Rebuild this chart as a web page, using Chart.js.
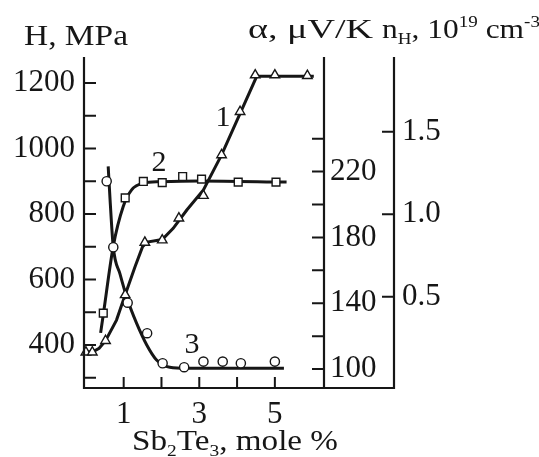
<!DOCTYPE html>
<html><head><meta charset="utf-8">
<script src="https://cdn.jsdelivr.net/npm/chart.js@4/dist/chart.umd.min.js"></script>
<style>html,body{margin:0;padding:0;background:#fff;overflow:hidden}canvas{display:block}</style>
</head><body>
<canvas id="c" width="539" height="457"></canvas>
<script>
// ---- data ----
// x: Sb2Te3, mole %
const xTicks = [1, 2, 3, 4, 5];
const xTickLabels = ['1', '', '3', '', '5'];

// Curve 1: microhardness H, MPa (triangles)
const hPointX = [0, 0.17, 0.52, 1.04, 1.56, 2.02, 2.46, 3.11, 3.59, 4.08, 4.48, 5.0, 5.86];
const hPointY = [378, 378, 413, 553, 713, 720, 787, 856, 980, 1112, 1224, 1224, 1222];
const hCurveX = [-0.05, 0.2, 0.35, 0.52, 0.81, 1.04, 1.30, 1.50, 1.62, 2.02, 2.31, 2.67, 3.11, 3.59, 4.52, 6.03];
const hCurveY = [378, 380, 390, 413, 476, 553, 639, 700, 714, 722, 756, 812, 873, 980, 1220, 1220];
const hTicks = [300, 400, 500, 600, 700, 800, 900, 1000, 1100, 1200];
const hTickLabels = ['', '400', '', '600', '', '800', '', '1000', '', '1200'];

// Curve 2: Seebeck coefficient alpha, uV/K (squares)
const aPointX = [0.46, 1.04, 1.52, 2.02, 2.56, 3.06, 4.03, 5.03];
const aPointY = [134, 204, 214, 213.3, 217, 215.4, 213.6, 213.6];
const aCurveX = [0.39, 0.46, 0.725, 0.99, 1.21, 1.52, 1.96, 3.0, 5.31];
const aCurveY = [122, 133, 174.7, 198.9, 208.9, 213, 213.8, 214.3, 213.6];
const aTicks = [100, 120, 140, 160, 180, 200, 220, 240];
const aTickLabels = ['100', '', '140', '', '180', '', '220', ''];

// Curve 3: Hall concentration n_H, 10^19 cm^-3 (circles)
const nPointX = [0.55, 0.725, 1.105, 1.62, 2.03, 2.60, 3.11, 3.62, 4.10, 5.00];
const nPointY = [1.20, 0.80, 0.464, 0.279, 0.097, 0.073, 0.107, 0.107, 0.097, 0.107];
const nCurveX = [0.59, 0.64, 0.725, 0.90, 1.105, 1.34, 1.61, 1.87, 2.22, 2.67, 5.24];
const nCurveY = [1.29, 1.087, 0.80, 0.64, 0.48, 0.34, 0.208, 0.117, 0.073, 0.067, 0.067];
const nTicks = [0.5, 1.0, 1.5];
const nTickLabels = ['0.5', '1.0', '1.5'];

const curveLabels = ['1', '2', '3'];
// ---------------------------------------

const INK = '#161616';
const SERIF = "'Liberation Serif', 'Times New Roman', serif";
const zip = (xs, ys) => xs.map((x, i) => ({x, y: ys[i]}));
const setTicks = list => s => { s.ticks = list.map(v => ({value: v})); };
const labelFrom = (list, labels) => (v, i) => labels[list.indexOf(v)] ?? '';

function drawRich(ctx, parts, x, base, size, targetW) {
  const widths = parts.map(p => {
    ctx.font = ((p.sub || p.sup) ? Math.round(size * 0.6) : size) + 'px ' + SERIF;
    return ctx.measureText(p.t).width;
  });
  const total = widths.reduce((a, b) => a + b, 0);
  ctx.save();
  ctx.translate(x, base);
  ctx.scale(targetW ? targetW / total : 1, 1);
  ctx.fillStyle = INK;
  ctx.textBaseline = 'alphabetic';
  ctx.textAlign = 'left';
  let cx = 0;
  parts.forEach((p, i) => {
    ctx.font = ((p.sub || p.sup) ? Math.round(size * 0.6) : size) + 'px ' + SERIF;
    const dy = p.sub ? size * 0.2 : p.sup ? -size * 0.38 : 0;
    ctx.fillText(p.t, cx, dy);
    cx += widths[i];
  });
  ctx.restore();
}

const framePlugin = {
  id: 'frame',
  afterDraw(chart) {
    const {ctx, chartArea: ca, scales} = chart;
    const yN = scales.yN;
    const nLine = yN.left - 1;
    ctx.save();
    ctx.strokeStyle = INK;
    ctx.lineWidth = 2.2;
    ctx.lineCap = 'square';
    ctx.beginPath();
    ctx.moveTo(ca.left, ca.top); ctx.lineTo(ca.left, ca.bottom); ctx.lineTo(nLine, ca.bottom);
    ctx.moveTo(ca.right, ca.top); ctx.lineTo(ca.right, ca.bottom);
    ctx.moveTo(nLine, ca.top); ctx.lineTo(nLine, ca.bottom);
    ctx.stroke();
    ctx.lineWidth = 2;
    ctx.lineCap = 'butt';
    ctx.beginPath();
    scales.yH.ticks.forEach(t => { const y = scales.yH.getPixelForValue(t.value); ctx.moveTo(ca.left, y); ctx.lineTo(ca.left + 12, y); });
    scales.yA.ticks.forEach(t => { const y = scales.yA.getPixelForValue(t.value); ctx.moveTo(ca.right - 12, y); ctx.lineTo(ca.right, y); });
    yN.ticks.forEach(t => { const y = yN.getPixelForValue(t.value); ctx.moveTo(nLine - 12, y); ctx.lineTo(nLine, y); });
    scales.x.ticks.forEach(t => { const x = scales.x.getPixelForValue(t.value); ctx.moveTo(x, ca.bottom); ctx.lineTo(x, ca.bottom - 11); });
    ctx.stroke();

    // axis titles
    drawRich(ctx, [{t: 'H, MPa'}], 24, 45, 30, 104);
    drawRich(ctx, [{t: 'α, μV/K'}], 248, 38, 28, 125);
    drawRich(ctx, [{t: 'n'}, {t: 'H', sub: true}, {t: ', 10'}, {t: '19', sup: true}, {t: ' cm'}, {t: '-3', sup: true}], 382, 38, 28, 158);
    drawRich(ctx, [{t: 'Sb'}, {t: '2', sub: true}, {t: 'Te'}, {t: '3', sub: true}, {t: ', mole %'}], 132, 450, 29, 206);

    // curve labels
    ctx.fillStyle = INK;
    ctx.font = '30px ' + SERIF;
    ctx.textAlign = 'center';
    ctx.textBaseline = 'middle';
    ctx.fillText(curveLabels[0], 223, 118);
    ctx.fillText(curveLabels[1], 159, 163);
    ctx.fillText(curveLabels[2], 192, 345);
    ctx.restore();
  }
};

const tickFont = {family: SERIF, size: 31};
const lineDS = (data, axis) => ({data, yAxisID: axis, showLine: true, borderColor: INK, borderWidth: 3, pointRadius: 0, fill: false, order: 2, clip: false});
const ptDS = (data, axis, style, r) => ({data, yAxisID: axis, showLine: false, pointStyle: style, pointRadius: r, pointBackgroundColor: '#fff', pointBorderColor: INK, pointBorderWidth: 1.4, order: 1, clip: false});

function build() {
new Chart(document.getElementById('c'), {
  type: 'scatter',
  data: {
    datasets: [
      ptDS(zip(hPointX, hPointY), 'yH', 'triangle', 5.5),
      ptDS(zip(aPointX, aPointY), 'yA', 'rect', 5.5),
      ptDS(zip(nPointX, nPointY), 'yN', 'circle', 4.6),
      Object.assign(lineDS(zip(hCurveX, hCurveY), 'yH'), {tension: 0}),
      Object.assign(lineDS(zip(aCurveX, aCurveY), 'yA'), {cubicInterpolationMode: 'monotone'}),
      Object.assign(lineDS(zip(nCurveX, nCurveY), 'yN'), {cubicInterpolationMode: 'monotone'})
    ]
  },
  options: {
    responsive: false,
    animation: false,
    devicePixelRatio: 1,
    layout: {padding: {top: 58, left: 0, right: 0, bottom: 0}},
    plugins: {legend: {display: false}, tooltip: {enabled: false}},
    scales: {
      x: {
        type: 'linear', position: 'bottom', min: -0.05, max: 6.3,
        afterBuildTicks: setTicks(xTicks),
        afterFit: s => { s.height = 69; },
        grid: {display: false, drawTicks: false}, border: {display: false},
        ticks: {font: tickFont, color: INK, padding: 8, autoSkip: false, maxRotation: 0, callback: labelFrom(xTicks, xTickLabels)}
      },
      yH: {
        type: 'linear', position: 'left', min: 268.7, max: 1276,
        afterBuildTicks: setTicks(hTicks),
        afterFit: s => { s.width = 84; },
        grid: {display: false, drawTicks: false}, border: {display: false},
        ticks: {font: tickFont, color: INK, padding: 9, autoSkip: false, callback: labelFrom(hTicks, hTickLabels)}
      },
      yA: {
        type: 'linear', position: 'right', weight: 0, min: 88.5, max: 289,
        afterBuildTicks: setTicks(aTicks),
        afterFit: s => { s.width = 71; },
        grid: {display: false, drawTicks: false}, border: {display: false},
        ticks: {font: tickFont, color: INK, padding: 6, autoSkip: false, callback: labelFrom(aTicks, aTickLabels)}
      },
      yN: {
        type: 'linear', position: 'right', weight: 1, min: -0.053, max: 1.947,
        afterBuildTicks: setTicks(nTicks),
        afterFit: s => { s.width = 144; },
        grid: {display: false, drawTicks: false}, border: {display: false},
        ticks: {font: tickFont, color: INK, padding: 7, autoSkip: false, callback: labelFrom(nTicks, nTickLabels)}
      }
    }
  },
  plugins: [framePlugin]
});
}
if (document.fonts && document.fonts.load) {
  document.fonts.load('30px "Liberation Serif"').then(build, build);
} else { build(); }
</script>
</body></html>
